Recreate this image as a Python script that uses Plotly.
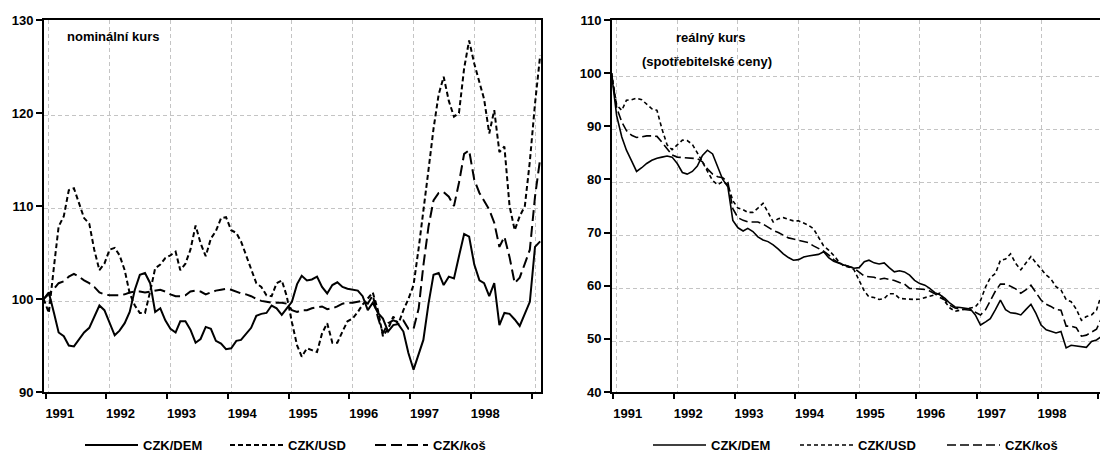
import pandas as pd
import plotly.graph_objects as go

# monthly observations, Dec 1990 = 100
months = pd.date_range("1990-12-01", periods=99, freq="MS")

nom_dem = [100.0, 100.7, 98.5, 96.4, 96.0, 95.0, 94.9, 95.7, 96.4, 96.9, 98.1,
           99.3, 98.8, 97.4, 96.1, 96.6, 97.4, 98.6, 101.0, 102.6, 102.8,
           101.7, 98.6, 99.0, 97.7, 96.8, 96.4, 97.6, 97.6, 96.7, 95.3,
           95.7, 97.0, 96.8, 95.5, 95.2, 94.6, 94.7, 95.5, 95.6, 96.3,
           96.9, 98.2, 98.4, 98.5, 99.3, 99.0, 98.3, 99.0, 99.7, 101.6,
           102.5, 102.0, 102.1, 102.4, 101.3, 100.6, 101.5, 101.8, 101.3, 101.1,
           101.0, 100.9, 100.3, 98.8, 99.6, 98.5, 97.9, 96.5, 97.2, 97.3,
           96.5, 94.2, 92.4, 94.2, 95.6, 99.5, 102.6, 102.8, 101.5, 102.4,
           102.2, 104.6, 107.0, 106.7, 103.7, 102.0, 101.7, 100.3, 101.7, 97.2,
           98.5, 98.4, 97.8, 97.1, 98.5, 99.7, 105.6, 106.2]

nom_usd = [100.0, 98.5, 103.5, 107.8, 108.9, 111.7, 111.9, 110.3, 108.7, 108.1, 105.3,
           103.1, 103.8, 105.3, 105.5, 104.7, 103.1, 100.6, 99.3, 98.5, 98.5,
           100.8, 103.3, 103.7, 104.4, 104.7, 105.1, 103.1, 103.8, 105.3, 107.9,
           106.0, 104.6, 106.5, 107.3, 108.7, 108.8, 107.4, 107.1, 106.2, 104.7,
           103.1, 101.7, 101.3, 100.4, 100.3, 101.7, 102.0, 100.3, 97.5, 95.0,
           93.8, 94.7, 94.5, 94.3, 96.3, 97.4, 95.3, 95.3, 96.5, 97.6,
           97.9, 98.6, 99.4, 100.1, 100.7, 98.8, 96.0, 96.8, 98.1, 97.3,
           98.8, 100.0, 101.5, 105.5, 109.3, 113.9, 118.3, 122.0, 123.9, 121.3,
           119.6, 120.0, 124.8, 127.8, 125.3, 123.4, 121.5, 117.8, 120.3, 115.8,
           116.4, 110.0, 107.4, 108.9, 110.0, 114.8, 121.0, 126.2]

nom_kos = [100.0, 100.5, 101.1, 101.7, 101.9, 102.4, 102.7, 102.4, 102.0, 101.7, 101.3,
           100.7, 100.5, 100.4, 100.4, 100.4, 100.5, 100.7, 100.8, 100.8, 100.7,
           100.8, 100.9, 101.0, 100.8, 100.5, 100.3, 100.3, 100.4, 100.8, 100.9,
           100.8, 100.5, 100.7, 100.9, 101.0, 101.1, 101.0, 100.8, 100.6, 100.5,
           100.3, 100.0, 99.8, 99.7, 99.6, 99.6, 99.6, 99.5, 98.8, 98.6,
           98.8, 98.8, 99.0, 99.1, 99.2, 98.9, 99.0, 99.2, 99.5, 99.6,
           99.6, 99.7, 99.8, 99.5, 100.4, 98.0, 96.3, 97.4, 97.7, 97.5,
           97.7, 96.8, 96.8, 99.0, 103.6, 107.8, 110.6, 111.4, 111.5, 111.0,
           110.0, 112.5, 115.6, 116.0, 112.8, 111.4, 110.6, 109.6, 108.2, 105.6,
           106.7, 104.5, 101.7, 102.3, 103.8, 105.3, 111.0, 115.1]

real_dem = [100.0, 92.0, 88.0, 85.5, 83.5, 81.5, 82.2, 83.0, 83.6, 84.0, 84.2,
            84.4, 84.2, 83.0, 81.3, 81.0, 81.5, 82.5, 84.5, 85.5, 84.8,
            82.5, 80.0, 78.6, 72.3, 70.9, 70.3, 70.8, 70.2, 69.2, 68.6,
            68.3, 67.7, 66.9, 66.0, 65.3, 64.8, 64.9, 65.4, 65.6, 65.8,
            65.9, 66.4, 65.3, 64.6, 64.2, 63.9, 63.6, 63.3, 63.4, 64.5,
            64.8, 64.3, 64.1, 64.3, 63.4, 62.6, 62.8, 62.6, 62.0, 61.0,
            60.4, 60.1, 59.5, 58.7, 58.3, 57.6, 56.7, 56.0, 55.9, 55.8,
            55.6, 54.5, 52.6, 53.2, 53.8, 55.5, 57.3, 55.5, 54.9, 54.8,
            54.5, 55.5, 56.5, 54.8, 52.6, 51.7, 51.4, 51.1, 51.4, 48.3,
            48.8, 48.7, 48.6, 48.4, 49.5, 49.8, 50.5]

real_usd = [100.0, 94.0, 93.0, 94.9, 95.0, 95.3, 95.0, 94.2, 93.3, 93.0, 89.5,
            86.5, 85.6, 86.5, 87.4, 87.3, 86.6, 85.0, 83.2, 81.5, 79.8,
            79.0, 79.6, 79.0, 76.0, 74.6, 74.3, 73.8, 73.8, 74.6, 75.5,
            73.8, 72.0, 72.6, 72.8, 72.5, 72.2, 72.2, 71.8, 71.4, 70.7,
            69.0, 67.5, 66.7, 65.7, 64.5, 63.7, 63.5, 63.0, 61.0, 59.0,
            57.9, 57.8, 57.4, 57.6, 58.5, 58.5, 57.6, 57.5, 57.4, 57.4,
            57.5, 57.7, 58.0, 58.3, 58.6, 57.0, 55.8, 55.2, 55.4, 55.6,
            55.7, 56.0, 57.2, 59.8, 61.5, 62.3, 64.8, 65.0, 66.0, 64.2,
            63.0, 64.2, 65.5, 64.3, 63.1, 62.0, 61.3, 59.8, 59.2, 57.4,
            57.0, 55.6, 53.5, 54.2, 54.5, 55.4, 58.5]

real_kos = [100.0, 93.5, 90.8, 89.2, 88.3, 87.9, 88.0, 88.2, 88.2, 88.1, 87.0,
            85.8, 84.6, 84.2, 84.1, 84.1, 84.0, 83.9, 83.3, 82.0, 81.0,
            80.5, 80.3, 79.5, 74.5, 72.8, 72.3, 72.0, 72.0, 72.0, 71.6,
            71.0, 70.4, 70.0, 69.5, 69.0, 68.8, 68.6, 68.4, 68.1, 67.5,
            67.0, 66.5, 65.8, 64.9, 64.3, 63.9, 63.6, 63.3, 62.5, 61.8,
            61.7, 61.6, 61.2, 61.4, 61.2, 61.0, 60.6, 60.3, 59.5, 59.4,
            59.4, 59.3, 59.0, 58.5, 57.8, 57.3, 56.3, 55.8, 55.6, 55.5,
            55.4, 55.0, 54.5, 55.5, 57.2, 59.0, 60.3, 60.3, 59.9, 59.4,
            58.6, 59.2, 60.1, 58.8, 57.3, 56.5, 56.1, 55.5, 55.4, 52.4,
            52.4, 52.1, 50.5, 50.7, 51.3, 51.8, 54.0]

series_names = ["CZK/DEM", "CZK/USD", "CZK/koš"]
year_labels = ["1991", "1992", "1993", "1994", "1995", "1996", "1997", "1998", ""]
years = list(range(1991, 2000))

FONT = "Liberation Sans, Arial, sans-serif"
GRID = "#c4c4c4"

fig = go.Figure()

left_styles = [dict(color="black", width=2, dash="solid"),
               dict(color="black", width=2, dash="5px,3px"),
               dict(color="black", width=2, dash="11px,5px")]
right_styles = [dict(color="black", width=1.6, dash="solid"),
                dict(color="black", width=1.6, dash="4px,3px"),
                dict(color="black", width=1.6, dash="9px,4px")]

for name, vals, st in zip(series_names, [nom_dem, nom_usd, nom_kos], left_styles):
    fig.add_trace(go.Scatter(x=months, y=vals, mode="lines", name=name, line=st,
                             xaxis="x", yaxis="y", legend="legend"))
nr = len(real_dem)
for name, vals, st in zip(series_names, [real_dem, real_usd, real_kos], right_styles):
    fig.add_trace(go.Scatter(x=months[:nr], y=vals, mode="lines", name=name, line=st,
                             xaxis="x2", yaxis="y2", legend="legend2"))

grid_dates = [f"{y}-01-01" for y in years]
tick_dates = [f"{y-1}-12-12" for y in years]

def xaxis(domain, rng, anchor):
    return dict(domain=domain, range=rng, anchor=anchor, type="date",
                tickmode="array", tickvals=grid_dates, ticktext=year_labels,
                ticks="", showgrid=True, gridcolor=GRID, griddash="4px,3px", gridwidth=1,
                ticklabelshift=11, ticklabelstandoff=8,
                minor=dict(tickmode="array", tickvals=tick_dates, ticks="outside",
                           ticklen=5, tickwidth=2, tickcolor="black", showgrid=False),
                showline=True, linecolor="black", linewidth=2, mirror=True,
                tickfont=dict(family=FONT, size=13, color="black", weight="bold"),
                zeroline=False, fixedrange=True)

def yaxis(domain_anchor, rng, vals, offset, mirror):
    lo, hi = rng
    grid_vals = [v - offset for v in vals if lo < v < hi]
    return dict(range=rng, anchor=domain_anchor, domain=[0, 1],
                tickmode="array", tickvals=vals, ticktext=[str(v) for v in vals],
                ticks="outside", ticklen=6, tickwidth=2, tickcolor="black",
                showgrid=False,
                minor=dict(tickmode="array", tickvals=grid_vals, ticks="",
                           showgrid=True, gridcolor=GRID, griddash="4px,3px", gridwidth=1),
                showline=True, linecolor="black", linewidth=2, mirror=mirror,
                tickfont=dict(family=FONT, size=13, color="black", weight="bold"),
                zeroline=False, fixedrange=True)

left_ticks = [90, 100, 110, 120, 130]
right_ticks = [40, 50, 60, 70, 80, 90, 100, 110]

legend_common = dict(orientation="h", xref="container", yref="container",
                     yanchor="middle", y=1 - 445 / 462, xanchor="left",
                     font=dict(family=FONT, size=13, color="black", weight="bold"),
                     bgcolor="rgba(0,0,0,0)", entrywidthmode="pixels",
                     itemwidth=53, itemclick=False, itemdoubleclick=False)

fig.update_layout(
    width=1100, height=462,
    margin=dict(l=0, r=0, t=20, b=70, autoexpand=False),
    paper_bgcolor="white", plot_bgcolor="white",
    xaxis=xaxis([44 / 1100, 541 / 1100], ["1990-12-03", "1999-02-06"], "y"),
    yaxis=yaxis("x", [90, 130], left_ticks, 0.32, True),
    xaxis2=xaxis([612 / 1100, 1.0], ["1990-12-04", "1998-12-22"], "y2"),
    yaxis2=yaxis("x2", [40, 110], right_ticks, 0.56, False),
    legend=dict(legend_common, x=80 / 1100, entrywidth=77),
    legend2=dict(legend_common, x=648 / 1100, entrywidth=79),
    annotations=[
        dict(text="nominální kurs", xref="paper", yref="paper", x=65 / 1100, y=(392 - 37) / 372,
             xanchor="left", yanchor="middle", showarrow=False,
             font=dict(family=FONT, size=13, color="black", weight="bold")),
        dict(text="reálný kurs", xref="paper", yref="paper", x=710 / 1100, y=(392 - 38) / 372,
             xanchor="center", yanchor="middle", showarrow=False,
             font=dict(family=FONT, size=13, color="black", weight="bold")),
        dict(text="(spotřebitelské ceny)", xref="paper", yref="paper", x=707 / 1100,
             y=(392 - 61) / 372, xanchor="center", yanchor="middle", showarrow=False,
             font=dict(family=FONT, size=13, color="black", weight="bold")),
    ],
)

fig.write_html("out.html", config={"displayModeBar": False},
               post_script="document.body.style.margin='0';")
